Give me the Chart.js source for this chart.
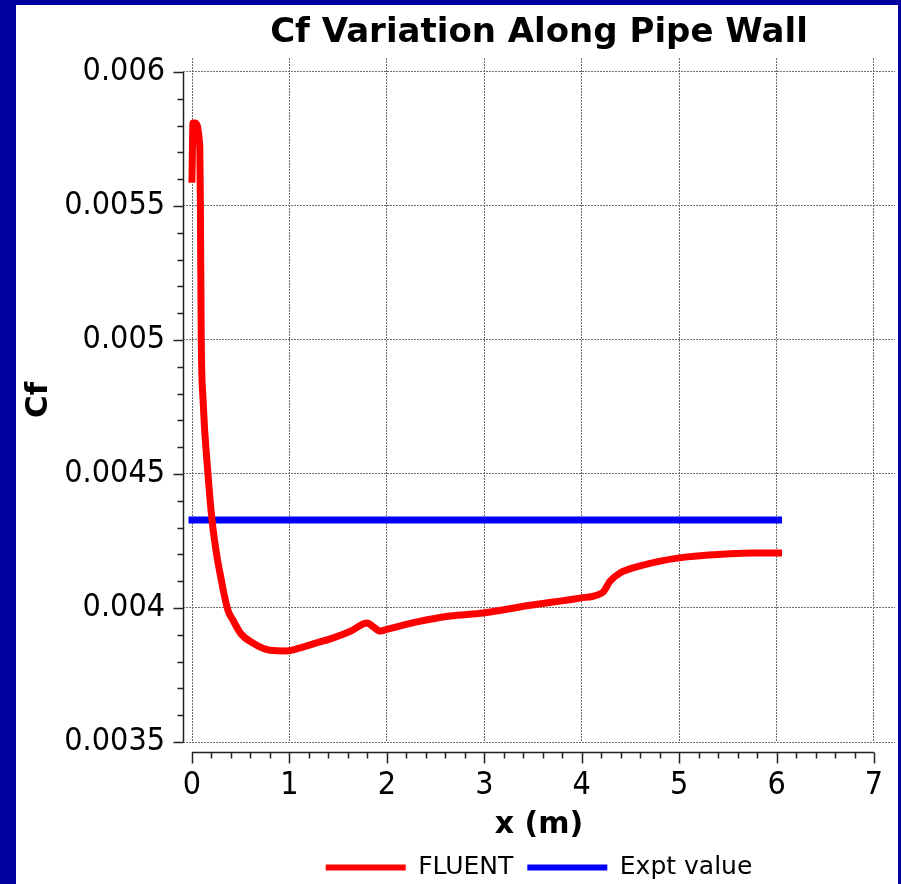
<!DOCTYPE html>
<html>
<head>
<meta charset="utf-8">
<script src="https://cdn.jsdelivr.net/npm/chart.js@4.4.0/dist/chart.umd.min.js"></script>
<style>
  html, body { margin: 0; padding: 0; background: #0000a0; }
  #marco { position: absolute; left: 16px; top: 5px; width: 882px; height: 879px; background: #fff; }
</style>
</head>
<body>
<div id="marco"><canvas id="chartCf" width="882" height="879"></canvas></div>
<script>
// Datos
const fluentX = [0, 0.01, 0.03, 0.08, 0.086, 0.095, 0.113, 0.164, 0.205, 0.257, 0.298, 0.33, 0.37, 0.42, 0.5, 0.62, 0.8, 0.97, 1.1, 1.28, 1.42, 1.62, 1.8, 1.86, 1.93, 2.0, 2.31, 2.65, 2.99, 3.47, 3.98, 4.22, 4.29, 4.39, 4.6, 5.0, 5.52, 5.76, 6.02];
const fluentCf = [0.0056, 0.00581, 0.00581, 0.00572, 0.0055, 0.005, 0.00478, 0.0045, 0.00433, 0.00419, 0.00411, 0.00405, 0.00399, 0.003955, 0.003905, 0.00387, 0.003842, 0.003840, 0.00385, 0.00387, 0.003885, 0.003912, 0.003944, 0.00393, 0.003914, 0.00392, 0.003948, 0.00397, 0.003981, 0.00401, 0.004037, 0.00406, 0.0041, 0.00413, 0.004157, 0.004187, 0.004202, 0.004205, 0.004205];
const exptX = [0, 6.02];
const exptCf = [0.004328, 0.004328];
const xTicks = [0, 1, 2, 3, 4, 5, 6, 7];
const yTicks = [0.0035, 0.004, 0.0045, 0.005, 0.0055, 0.006];
const nombresSeries = ['FLUENT', 'Expt value'];

const fuente = 'DejaVu Sans';
const fuenteTicks = "'DejaVu Sans Condensed', 'DejaVu Sans'";

// Ejes negros con marcas mayores y menores (como en la imagen original)
const ejesPlugin = {
  id: 'ejes',
  afterDraw(chart) {
    const { ctx, chartArea, scales: { x, y } } = chart;
    ctx.save();
    ctx.strokeStyle = '#222';
    ctx.lineWidth = 1.5;
    ctx.beginPath();

    // eje Y
    const xe = Math.round(chartArea.left) + 0.5;
    const yTop = y.getPixelForValue(yTicks[yTicks.length - 1]);
    const yBot = y.getPixelForValue(yTicks[0]);
    ctx.moveTo(xe, yTop);
    ctx.lineTo(xe, yBot);
    const nY = Math.round((yTicks[yTicks.length - 1] - yTicks[0]) / 0.0001);
    for (let i = 0; i <= nY; i++) {
      const py = Math.round(y.getPixelForValue(yTicks[0] + i * 0.0001)) + 0.5;
      const largo = (i % 5 === 0) ? 10 : 6;
      ctx.moveTo(xe - largo, py);
      ctx.lineTo(xe, py);
    }

    // eje X (separado del area de trazado)
    const ye = Math.round(chartArea.bottom + 10) + 0.5;
    const xIni = x.getPixelForValue(xTicks[0]);
    const xFin = x.getPixelForValue(xTicks[xTicks.length - 1]);
    ctx.moveTo(xIni, ye);
    ctx.lineTo(xFin, ye);
    const nX = Math.round((xTicks[xTicks.length - 1] - xTicks[0]) / 0.2);
    for (let i = 0; i <= nX; i++) {
      const px = Math.round(x.getPixelForValue(xTicks[0] + i * 0.2)) + 0.5;
      const largo = (i % 5 === 0) ? 11 : 6;
      ctx.moveTo(px, ye);
      ctx.lineTo(px, ye + largo);
    }
    ctx.stroke();
    ctx.restore();
  }
};

const ctx = document.getElementById('chartCf').getContext('2d');
new Chart(ctx, {
  type: 'line',
  data: {
    datasets: [
      {
        label: nombresSeries[0],
        data: fluentX.map((v, i) => ({ x: v, y: fluentCf[i] })),
        borderColor: '#ff0000',
        backgroundColor: '#ff0000',
        borderWidth: 7,
        borderCapStyle: 'square',
        cubicInterpolationMode: 'monotone',
        pointRadius: 0
      },
      {
        label: nombresSeries[1],
        data: exptX.map((v, i) => ({ x: v, y: exptCf[i] })),
        borderColor: '#0000ff',
        backgroundColor: '#0000ff',
        borderWidth: 7,
        borderCapStyle: 'square',
        pointRadius: 0
      }
    ]
  },
  options: {
    responsive: false,
    animation: false,
    devicePixelRatio: 1,
    layout: { padding: { left: 0, right: 3, top: 0, bottom: -6 } },
    scales: {
      x: {
        type: 'linear',
        min: -0.0924,
        max: 7.2156,
        afterBuildTicks: (scale) => { scale.ticks = xTicks.map(v => ({ value: v })); },
        afterFit: (scale) => { scale.height = 99; scale.paddingLeft = 0; scale.paddingRight = 0; },
        grid: { color: '#6e6e6e', lineWidth: 1, drawTicks: false },
        border: { display: false, dash: [2, 1] },
        ticks: {
          autoSkip: false, maxRotation: 0, padding: 24, color: '#000',
          font: { family: fuenteTicks, size: 32 }
        },
        title: {
          display: true, text: 'x (m)', color: '#000',
          font: { family: fuente, size: 30, weight: 'bold', lineHeight: 1 },
          padding: { top: 0, bottom: 1 }
        }
      },
      y: {
        type: 'linear',
        min: 0.0035,
        max: 0.0060522,
        afterBuildTicks: (scale) => { scale.ticks = yTicks.map(v => ({ value: v })); },
        afterFit: (scale) => { scale.width = 167; },
        grid: { color: '#6e6e6e', lineWidth: 1, drawTicks: false },
        border: { display: false, dash: [2, 1] },
        ticks: {
          padding: 18, color: '#000',
          font: { family: fuenteTicks, size: 32 },
          callback: (v) => String(Number(v.toFixed(4)))
        },
        title: {
          display: true, text: 'Cf', color: '#000',
          font: { family: fuente, size: 31, weight: 'bold' },
          padding: { top: 4, bottom: 0 }
        }
      }
    },
    plugins: {
      title: {
        display: true,
        text: 'Cf Variation Along Pipe Wall',
        color: '#000',
        fullSize: false,
        font: { family: fuente, size: 34, weight: 'bold' },
        padding: { top: 7.6, bottom: 4.6 }
      },
      legend: {
        position: 'bottom',
        fullSize: false,
        labels: {
          boxWidth: 80,
          boxHeight: 6,
          padding: 14,
          color: '#000',
          font: { family: fuente, size: 25 },
          generateLabels: (chart) => Chart.defaults.plugins.legend.labels.generateLabels(chart)
            .map(l => Object.assign(l, { lineWidth: 0 }))
        }
      },
      tooltip: { enabled: false }
    }
  },
  plugins: [ejesPlugin]
});
</script>
</body>
</html>
